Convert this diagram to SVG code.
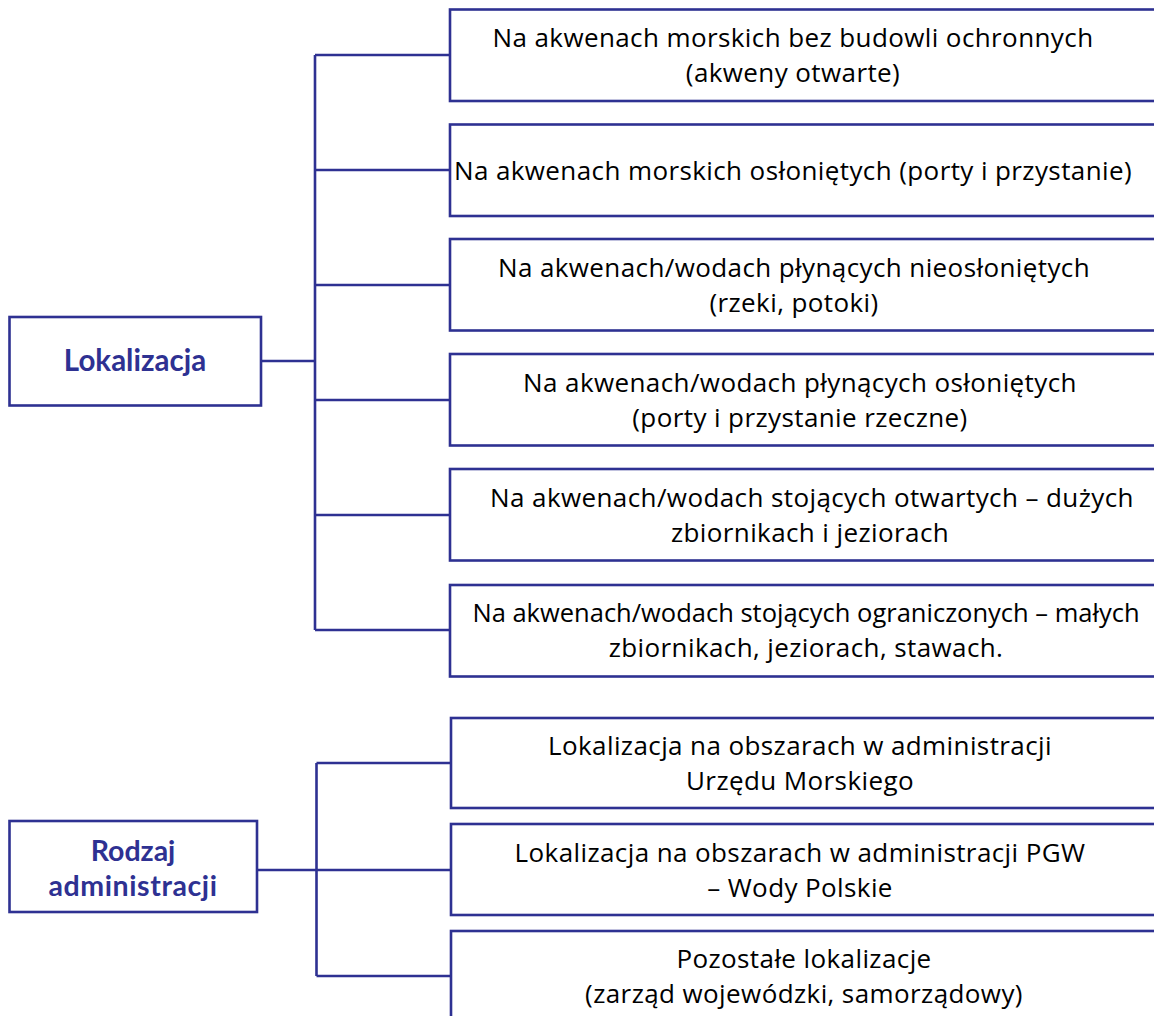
<svg xmlns="http://www.w3.org/2000/svg" width="1154" height="1016" viewBox="0 0 1154 1016">
<style>
.box{fill:#fff;stroke:#2E3192;stroke-width:2.6}
.ln{fill:none;stroke:#2E3192;stroke-width:2.6}
.t{font-family:"Open Sans","Liberation Sans",sans-serif;font-size:26px;letter-spacing:0.4px;fill:#000;text-anchor:middle}
.h{font-family:Lato,"Liberation Sans",sans-serif;font-size:28.5px;font-weight:bold;fill:#2E3192;text-anchor:middle}
</style>
<rect width="1154" height="1016" fill="#fff"/>
<g id="connectors">
<path class="ln" d="M261,361H315M315,55V630M315,55H450M315,170H450M315,285H450M315,400H450M315,515H450M315,630H450"/>
<path class="ln" d="M257,870H316.5M316.5,763V976M316.5,763H451M316.5,870H451M316.5,976H451"/>
</g>
<g id="lokalizacja">
<rect class="box" x="9.5" y="317" width="251.5" height="88.5"/>
<text class="h" x="135" y="370.5" style="font-size:29.5px">Lokalizacja</text>
</g>
<g id="n1"><rect class="box" x="450" y="9.5" width="720" height="91.5"/>
<text class="t" x="793" y="46.5">Na akwenach morskich bez budowli ochronnych</text>
<text class="t" x="793" y="82.2">(akweny otwarte)</text></g>
<g id="n2"><rect class="box" x="450" y="124.5" width="720" height="91.5"/>
<text class="t" x="793" y="179.5">Na akwenach morskich osłoniętych (porty i przystanie)</text></g>
<g id="n3"><rect class="box" x="450" y="239" width="720" height="91.5"/>
<text class="t" x="794" y="276.5">Na akwenach/wodach płynących nieosłoniętych</text>
<text class="t" x="794" y="312.2">(rzeki, potoki)</text></g>
<g id="n4"><rect class="box" x="450" y="354" width="720" height="91.5"/>
<text class="t" x="800" y="391.5">Na akwenach/wodach płynących osłoniętych</text>
<text class="t" x="800" y="427.2">(porty i przystanie rzeczne)</text></g>
<g id="n5"><rect class="box" x="450" y="469" width="720" height="91.5"/>
<text class="t" x="812" y="506.5">Na akwenach/wodach stojących otwartych – dużych</text>
<text class="t" x="810" y="542.2">zbiornikach i jeziorach</text></g>
<g id="n6"><rect class="box" x="450" y="585" width="720" height="91.5"/>
<text class="t" x="806" y="621.5" style="font-size:25.5px;letter-spacing:0">Na akwenach/wodach stojących ograniczonych – małych</text>
<text class="t" x="806" y="657.2">zbiornikach, jeziorach, stawach.</text></g>
<g id="rodzaj">
<rect class="box" x="9.5" y="821" width="247.5" height="91"/>
<text class="h" x="133" y="861">Rodzaj</text>
<text class="h" x="133" y="895.5" style="letter-spacing:0.6px">administracji</text>
</g>
<g id="a1"><rect class="box" x="451" y="718" width="720" height="90"/>
<text class="t" x="800" y="754.5">Lokalizacja na obszarach w administracji</text>
<text class="t" x="800" y="790.2">Urzędu Morskiego</text></g>
<g id="a2"><rect class="box" x="451" y="824" width="720" height="91"/>
<text class="t" x="800" y="861.5">Lokalizacja na obszarach w administracji PGW</text>
<text class="t" x="800" y="897.2">– Wody Polskie</text></g>
<g id="a3"><rect class="box" x="451" y="931" width="720" height="91"/>
<text class="t" x="804" y="967.5">Pozostałe lokalizacje</text>
<text class="t" x="804" y="1003.2">(zarząd wojewódzki, samorządowy)</text></g>
</svg>
